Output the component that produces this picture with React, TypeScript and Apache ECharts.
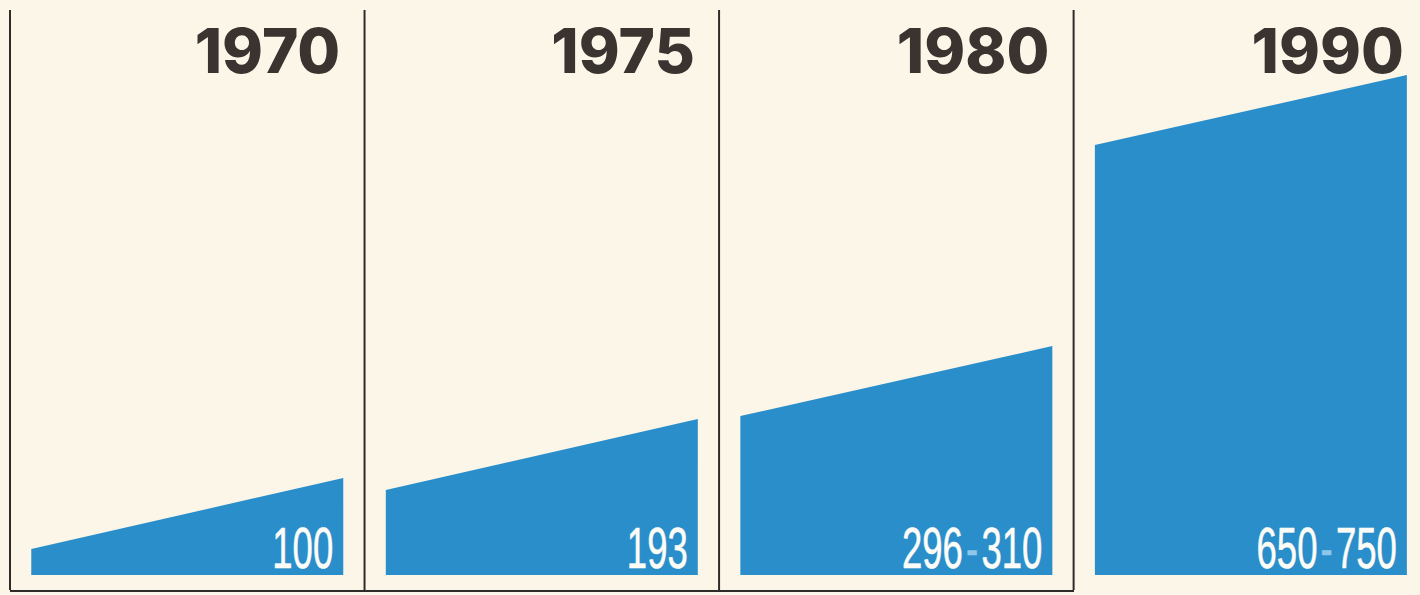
import React, { useEffect, useRef } from "react";
import * as echarts from "echarts";

const years = ["1970", "1975", "1980", "1990"];
const valueLabels = ["100", "193", "296-310", "650-750"];
const leftHeights = [26, 85, 159, 430];
const rightHeights = [97, 156, 229, 500];

const BG = "#fbf6e8";
const BLUE = "#2a8eca";
const INK = "#3a3431";
const RULE = "#2f2b29";
const LABEL = "#fdfcf6";

export default function App() {
  const ref = useRef<HTMLDivElement>(null);
  useEffect(() => {
    if (!ref.current) return;
    const chart = echarts.init(ref.current, null, { renderer: "svg" });
    const renderItem = (params: any, api: any) => {
      const idx = api.value(0);
      const lh = api.value(1);
      const rh = api.value(2);
      const bw = api.size([1, 0])[0];
      const c0 = api.coord([idx, 0]);
      const cl = api.coord([idx, lh]);
      const cr = api.coord([idx, rh]);
      const x0 = c0[0] - bw * 0.44;
      const x1 = c0[0] + bw * 0.44;
      const base = c0[1];
      const top = params.coordSys.y;
      const bottom = params.coordSys.y + params.coordSys.height;
      const divX = c0[0] - bw * 0.5;
      const label = valueLabels[params.dataIndex].replace("-", "{d|-}");
      return {
        type: "group",
        children: [
          {
            type: "line",
            shape: { x1: divX, y1: top, x2: divX, y2: bottom },
            style: { stroke: RULE, lineWidth: 2 },
          },
          {
            type: "polygon",
            shape: { points: [[x0, base], [x0, cl[1]], [x1, cr[1]], [x1, base]] },
            style: { fill: BLUE },
          },
          {
            type: "text",
            x: x1 - 10,
            y: base + 2,
            scaleX: 0.63,
            style: {
              text: label,
              fill: LABEL,
              stroke: LABEL,
              lineWidth: 0.6,
              font: "400 58px 'Liberation Sans'",
              align: "right",
              verticalAlign: "bottom",
              rich: {
                d: {
                  fill: "#8fc7ea",
                  stroke: "#8fc7ea",
                  lineWidth: 0.6,
                  font: "400 58px 'Liberation Sans'",
                  padding: [0, 5],
                },
              },
            },
          },
          {
            type: "text",
            x: x1 - 3,
            y: top + 9,
            style: {
              text: years[params.dataIndex],
              fill: INK,
              font: "800 62px Inter",
              align: "right",
              verticalAlign: "top",
            },
          },
        ],
      };
    };
    chart.setOption({
      animation: false,
      backgroundColor: BG,
      grid: { left: 10, top: 10, right: 0, height: 580 },
      xAxis: {
        type: "value",
        min: -0.5,
        max: 3.477,
        show: false,
        splitLine: { show: false },
      },
      yAxis: { type: "value", min: -15, max: 565, show: false, splitLine: { show: false } },
      series: [
        {
          type: "custom",
          silent: true,
          renderItem,
          clip: false,
          data: years.map((_, i) => [i, leftHeights[i], rightHeights[i]]),
        },
      ],
      graphic: [
        {
          type: "line",
          shape: { x1: 10, y1: 591, x2: 1074, y2: 591 },
          style: { stroke: RULE, lineWidth: 2 },
        },
      ],
    });
    return () => chart.dispose();
  }, []);
  return (
    <div
      ref={ref}
      style={{ position: "fixed", left: 0, top: 0, width: 1420, height: 595 }}
    />
  );
}
